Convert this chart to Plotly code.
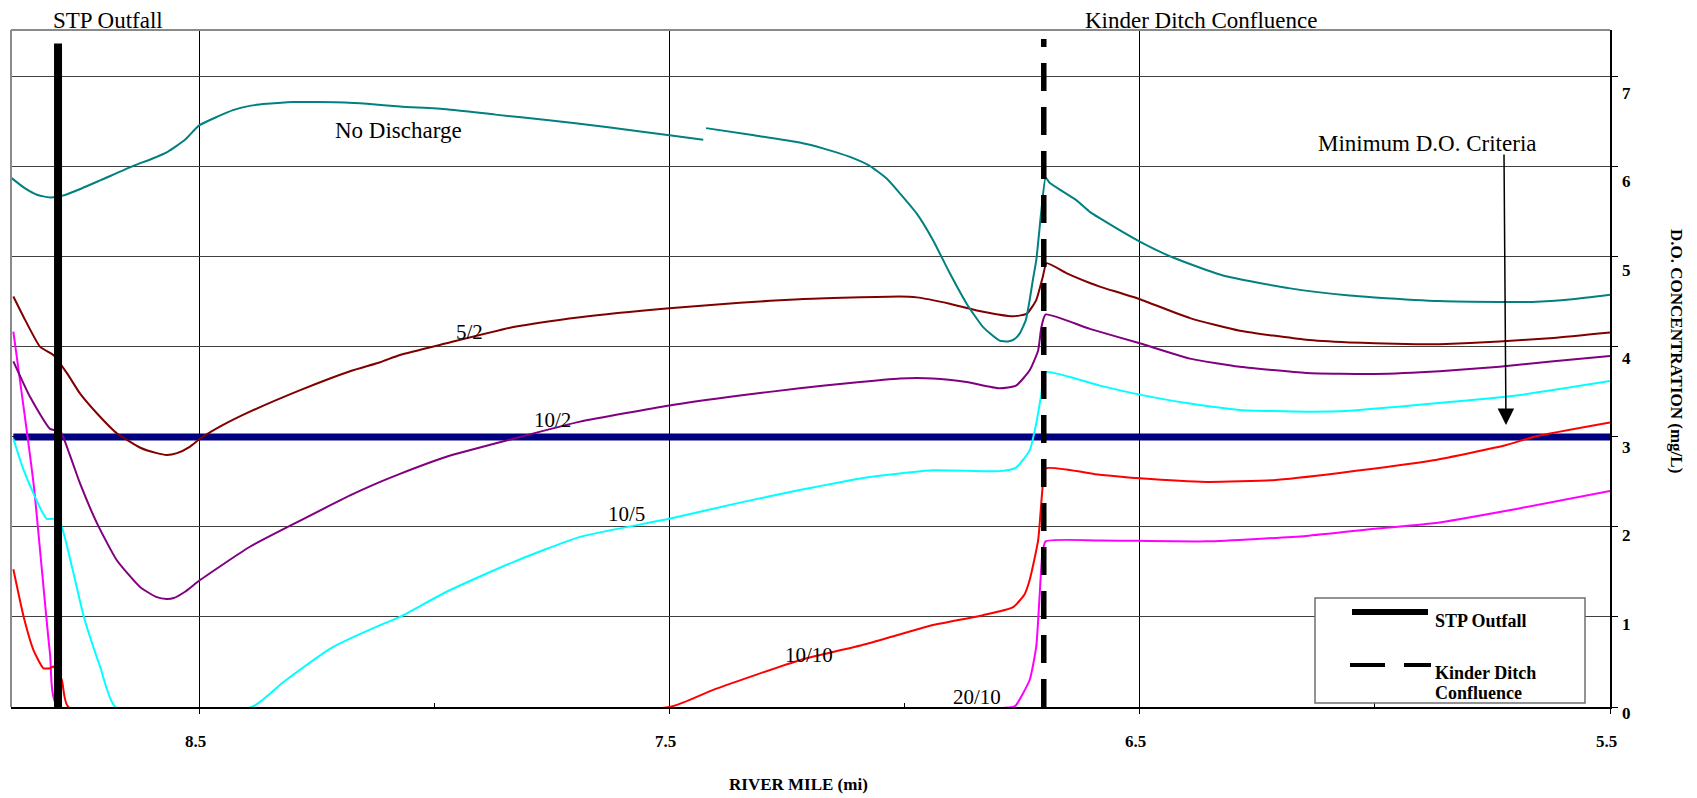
import plotly.graph_objects as go

# ---------------- data ----------------
nd_mile = [8.9, 8.87, 8.845, 8.817, 8.79, 8.75, 8.71, 8.64, 8.60, 8.566, 8.53, 8.5, 8.46, 8.428, 8.39,
           8.356, 8.30, 8.25, 8.19, 8.143, 8.073, 7.974, 7.87, 7.761, 7.63, 7.5, 7.428, None,
           7.422, 7.32, 7.223, 7.17, 7.116, 7.074, 7.038, 7.009, 6.974, 6.94, 6.904, 6.868, 6.833,
           6.798, 6.780, 6.768, 6.755, 6.742, 6.734, 6.727, 6.72, 6.709, 6.700, 6.691, 6.635, 6.606,
           6.585, 6.5, 6.428, 6.321, 6.18, 6.054, 6.0, 5.862, 5.735, 5.665, 5.58, 5.5]
nd_do = [5.88, 5.76, 5.69, 5.66, 5.68, 5.76, 5.85, 6.01, 6.09, 6.17, 6.30, 6.46, 6.56, 6.63, 6.68,
         6.70, 6.72, 6.72, 6.715, 6.70, 6.67, 6.64, 6.58, 6.52, 6.44, 6.35, 6.30, None,
         6.43, 6.35, 6.27, 6.20, 6.11, 6.01, 5.87, 5.70, 5.48, 5.19, 4.82, 4.48, 4.22,
         4.07, 4.06, 4.08, 4.15, 4.30, 4.52, 4.75, 4.96, 5.52, 5.88, 5.82, 5.63, 5.50,
         5.43, 5.17, 4.99, 4.79, 4.65, 4.57, 4.55, 4.51, 4.50, 4.50, 4.53, 4.58]

s52_mile = [8.895, 8.87, 8.838, 8.81, 8.78, 8.753, 8.717, 8.675, 8.625, 8.59, 8.569, 8.547, 8.52, 8.498,
            8.45, 8.392, 8.285, 8.179, 8.115, 8.073, 7.974, 7.832, 7.690, 7.5, 7.35, 7.223, 7.01, 6.974,
            6.904, 6.833, 6.769, 6.74, 6.72, 6.706, 6.698, 6.656, 6.606, 6.585, 6.5, 6.393, 6.287,
            6.146, 6.054, 6.0, 5.912, 5.862, 5.735, 5.62, 5.5]
s52_do = [4.56, 4.30, 4.00, 3.91, 3.70, 3.48, 3.26, 3.04, 2.88, 2.82, 2.80, 2.82, 2.89, 2.98,
          3.13, 3.28, 3.52, 3.73, 3.83, 3.91, 4.04, 4.22, 4.33, 4.43, 4.49, 4.53, 4.56, 4.55,
          4.48, 4.39, 4.34, 4.37, 4.52, 4.78, 4.93, 4.82, 4.71, 4.67, 4.53, 4.32, 4.18,
          4.08, 4.05, 4.04, 4.03, 4.03, 4.06, 4.10, 4.16]

s102_mile = [8.895, 8.859, 8.817, 8.795, 8.775, 8.753, 8.717, 8.675, 8.625, 8.59, 8.569, 8.554, 8.53,
             8.498, 8.392, 8.285, 8.179, 8.115, 8.073, 7.974, 7.832, 7.690, 7.5, 7.35, 7.223, 7.116,
             7.01, 6.94, 6.868, 6.798, 6.763, 6.734, 6.716, 6.709, 6.700, 6.606, 6.5, 6.393, 6.287,
             6.146, 6.0, 5.862, 5.735, 5.62, 5.5]
s102_do = [3.84, 3.44, 3.09, 3.06, 2.80, 2.48, 2.04, 1.63, 1.33, 1.22, 1.20, 1.21, 1.28,
           1.41, 1.78, 2.07, 2.35, 2.50, 2.59, 2.78, 2.98, 3.17, 3.35, 3.46, 3.54, 3.60,
           3.65, 3.65, 3.61, 3.54, 3.57, 3.74, 3.96, 4.22, 4.36, 4.20, 4.04, 3.87, 3.78,
           3.71, 3.70, 3.73, 3.78, 3.84, 3.90]

s105_mile = [8.895, 8.875, 8.852, 8.835, 8.824, 8.81, 8.795, 8.77, 8.745, 8.71, 8.678, 8.388, 8.32,
             8.214, 8.115, 8.073, 7.974, 7.832, 7.690, 7.5, 7.35, 7.223, 7.081, 6.94, 6.798, 6.763,
             6.734, 6.72, 6.709, 6.701, 6.585, 6.5, 6.393, 6.287, 6.146, 6.054, 5.876, 5.699, 5.5]
s105_do = [2.98, 2.66, 2.37, 2.18, 2.09, 2.09, 2.04, 1.55, 1.00, 0.44, 0.0, 0.0, 0.28,
           0.67, 0.91, 1.00, 1.28, 1.61, 1.89, 2.09, 2.27, 2.41, 2.55, 2.63, 2.62, 2.66,
           2.85, 3.15, 3.48, 3.72, 3.57, 3.47, 3.37, 3.30, 3.28, 3.29, 3.37, 3.46, 3.62]

s1010_mile = [8.895, 8.873, 8.852, 8.831, 8.817, 8.81, 8.792, 8.778, 7.5, 7.407, 7.223, 7.081, 6.94,
              6.833, 6.769, 6.745, 6.734, 6.716, 6.707, 6.700, 6.585, 6.5, 6.358, 6.216, 6.075,
              5.876, 5.72, 5.663, 5.5]
s1010_do = [1.53, 1.00, 0.63, 0.43, 0.43, 0.45, 0.30, 0.0, 0.0, 0.19, 0.52, 0.70, 0.91,
            1.02, 1.11, 1.25, 1.41, 1.85, 2.41, 2.65, 2.58, 2.54, 2.50, 2.52, 2.60,
            2.74, 2.91, 3.00, 3.16]

s2010_mile = [8.895, 8.852, 8.817, 8.80, 6.77, 6.763, 6.734, 6.72, 6.713, 6.707, 6.700, 6.585, 6.358,
              6.146, 6.0, 5.876, 5.699, 5.5]
s2010_do = [4.17, 2.48, 0.59, 0.0, 0.0, 0.02, 0.30, 0.67, 1.22, 1.70, 1.84, 1.85, 1.84,
            1.90, 1.98, 2.04, 2.20, 2.40]

criteria_mile = [8.895, 5.5]
criteria_do = [3.0, 3.0]

stp_mile = 8.8
kinder_mile = 6.704

x_tickvals = [8.5, 7.5, 6.5, 5.5]
x_ticktext = ["8.5", "7.5", "6.5", "5.5"]
x_minorvals = [8.0, 7.0, 6.0]
y_tickvals = [0, 1, 2, 3, 4, 5, 6, 7]
y_ticktext = ["0", "1", "2", "3", "4", "5", "6", "7"]

# ---------------- layout constants (page pixels) ----------------
OFF = 8                      # default body margin of the html page
W, H = 1697 - OFF, 798 - OFF
PL, PR, PT, PB = 11 - OFF, 1610 - OFF, 30 - OFF, 707 - OFF
SERIF = "Times New Roman, Liberation Serif, serif"


def px_x(px):
    return (px - OFF - PL) / (PR - PL)


def px_y(py):
    return (PB - (py - OFF)) / (PB - PT)


fig = go.Figure()

fig.add_trace(go.Scatter(x=criteria_mile, y=criteria_do, mode="lines",
                         line=dict(color="#000080", width=7), showlegend=False))

series = [
    (s2010_mile, s2010_do, "#FF00FF"),
    (s1010_mile, s1010_do, "#FF0000"),
    (s105_mile, s105_do, "#00FFFF"),
    (s102_mile, s102_do, "#800080"),
    (s52_mile, s52_do, "#800000"),
    (nd_mile, nd_do, "#008080"),
]
for xs, ys, col in series:
    fig.add_trace(go.Scatter(x=xs, y=ys, mode="lines",
                             line=dict(color=col, width=2, shape="spline", smoothing=0.5),
                             connectgaps=False, showlegend=False))

fig.add_trace(go.Scatter(x=[stp_mile, stp_mile], y=[0, 7.37], mode="lines",
                         line=dict(color="black", width=8), showlegend=False))
fig.add_trace(go.Scatter(x=[kinder_mile, kinder_mile], y=[0, 7.42], mode="lines",
                         line=dict(color="black", width=5.5, dash="28px,16px"), showlegend=False))

fig.update_layout(
    width=W, height=H,
    margin=dict(l=PL, r=W - PR, t=PT, b=H - PB, pad=0),
    paper_bgcolor="white", plot_bgcolor="white",
    font=dict(family=SERIF, color="black"),
    showlegend=False,
    xaxis=dict(range=[8.9, 5.5], tickmode="array", tickvals=x_tickvals, showticklabels=False,
               ticks="outside", ticklen=5, tickcolor="black", tickwidth=1,
               showgrid=True, gridcolor="black", gridwidth=1,
               showline=True, linecolor="black", linewidth=2, zeroline=False,
               minor=dict(tickvals=x_minorvals, ticks="inside", ticklen=4, tickcolor="black",
                          showgrid=False)),
    yaxis=dict(range=[0, 7.52], side="right", tickmode="array", tickvals=y_tickvals,
               showticklabels=False, ticks="outside", ticklen=6, tickcolor="black",
               showgrid=True, gridcolor="#404040", gridwidth=1,
               showline=True, linecolor="black", linewidth=2, zeroline=False),
)

shapes = []
# gray top/left border of plot area
shapes.append(dict(type="line", xref="paper", yref="paper", x0=0, x1=1, y0=1, y1=1,
                   line=dict(color="#8a8a8a", width=2), layer="above"))
shapes.append(dict(type="line", xref="paper", yref="paper", x0=0, x1=0, y0=0, y1=1,
                   line=dict(color="#8a8a8a", width=2), layer="above"))
# legend box
shapes.append(dict(type="rect", xref="paper", yref="paper",
                   x0=px_x(1315), x1=px_x(1585), y0=px_y(703), y1=px_y(598),
                   line=dict(color="#707070", width=1.5), fillcolor="white", layer="above"))
shapes.append(dict(type="line", xref="paper", yref="paper",
                   x0=px_x(1352), x1=px_x(1428), y0=px_y(612), y1=px_y(612),
                   line=dict(color="black", width=6), layer="above"))
shapes.append(dict(type="line", xref="paper", yref="paper",
                   x0=px_x(1350), x1=px_x(1431), y0=px_y(665), y1=px_y(665),
                   line=dict(color="black", width=4, dash="35px,19px"), layer="above"))
fig.update_layout(shapes=shapes)

ann = []


def txt(text, px, py, size, bold=False, xanchor="center", angle=0):
    t = f"<b>{text}</b>" if bold else text
    ann.append(dict(text=t, xref="paper", yref="paper", x=px_x(px), y=px_y(py),
                    xanchor=xanchor, yanchor="middle", showarrow=False, textangle=angle,
                    font=dict(family=SERIF, size=size, color="black")))


# tick labels
for v, t in zip(x_tickvals, x_ticktext):
    ann.append(dict(text=f"<b>{t}</b>", xref="x", yref="paper", x=v, y=0, yshift=-34, xshift=-4,
                    xanchor="center", yanchor="middle", showarrow=False,
                    font=dict(family=SERIF, size=17, color="black")))
for v, t in zip(y_tickvals, y_ticktext):
    ann.append(dict(text=f"<b>{t}</b>", xref="paper", yref="y", x=1, y=v, xshift=16,
                    yshift=-(6 + 1.5 * v), xanchor="center", yanchor="middle", showarrow=False,
                    font=dict(family=SERIF, size=17, color="black")))

# axis titles
txt("RIVER MILE (mi)", 798, 784, 17, bold=True)
txt("D.O. CONCENTRATION (mg/L)", 1677, 351, 17, bold=True, angle=90)

# top labels and annotations
txt("STP Outfall", 107.5, 20, 23)
txt("Kinder Ditch Confluence", 1201, 20, 23)
txt("No Discharge", 398.5, 130, 23)
txt("Minimum D.O. Criteria", 1427, 143, 23)

# series labels
txt("5/2", 469, 332, 21)
txt("10/2", 552, 420, 21)
txt("10/5", 626, 514, 21)
txt("10/10", 809, 655, 21)
txt("20/10", 977, 697, 21)

# legend text
txt("STP Outfall", 1433, 621, 18, bold=True, xanchor="left")
txt("Kinder Ditch", 1433, 673, 18, bold=True, xanchor="left")
txt("Confluence", 1433, 693, 18, bold=True, xanchor="left")

# arrow to criteria line
ann.append(dict(text="", xref="paper", yref="paper", x=px_x(1506), y=px_y(425),
                ax=-2, ay=-272, showarrow=True, arrowhead=2, arrowsize=2.2, arrowwidth=1.5,
                arrowcolor="black"))

fig.update_layout(annotations=ann)

fig.write_html("out.html")
